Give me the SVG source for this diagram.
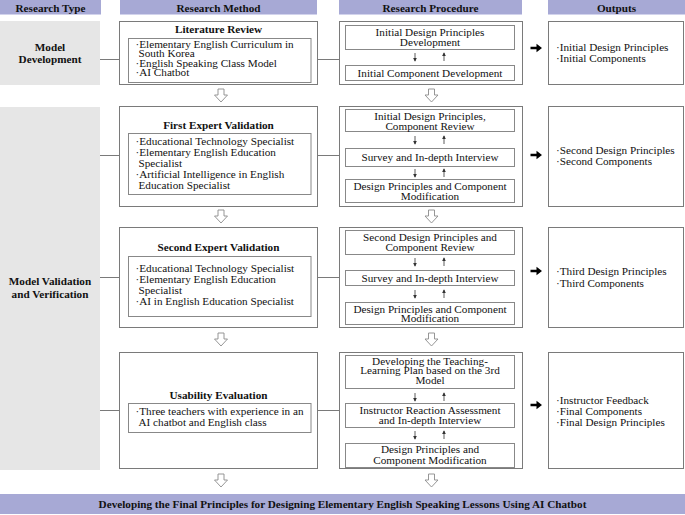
<svg xmlns="http://www.w3.org/2000/svg" width="685" height="515" viewBox="0 0 685 515">
<defs>
<style>
text{font-family:"Liberation Serif","Times New Roman",serif;font-size:11.2px;fill:#111}
.b{font-weight:bold}
.c{text-anchor:middle}
.hdr{fill:#a7a9d5}
.hdrl{stroke:#d2d3ec;stroke-width:1}
.gray{fill:#e6e6e6}
.box{fill:#fff;stroke:#7a7a7a;stroke-width:1}
.ibox{fill:#fff;stroke:#888;stroke-width:1}
.con{stroke:#7a7a7a;stroke-width:1;fill:none}
.hol{fill:#fff;stroke:#8a8a8a;stroke-width:0.9}
.sm{stroke:#333;stroke-width:0.8;fill:none}
.bold{fill:#000;stroke:none}
</style>
<marker id="tip" viewBox="0 0 6 6" refX="5" refY="3" markerWidth="4" markerHeight="4" orient="auto" markerUnits="userSpaceOnUse">
<path d="M0,0 L6,3 L0,6 Z" fill="#333"/>
</marker>
<path id="hollow" d="M-3,0 L3,0 L3,6 L6.5,6 L0,13 L-6.5,6 L-3,6 Z"/>
<path id="barrow" d="M-9.5,-1.3 L-3.5,-1.3 L-3.5,-4.3 L2,0 L-3.5,4.3 L-3.5,1.3 L-9.5,1.3 Z"/>
</defs>

<g id="headers">
<rect class="hdr" x="0" y="0" width="101" height="15"/>
<rect class="hdr" x="120" y="0" width="197" height="15"/>
<rect class="hdr" x="339" y="0" width="183" height="15"/>
<rect class="hdr" x="548" y="0" width="137" height="15"/>
<line class="hdrl" x1="0" y1="14.5" x2="101" y2="14.5"/>
<line class="hdrl" x1="120" y1="14.5" x2="317" y2="14.5"/>
<line class="hdrl" x1="339" y1="14.5" x2="522" y2="14.5"/>
<line class="hdrl" x1="548" y1="14.5" x2="685" y2="14.5"/>
<text class="b c" x="50.5" y="11.5">Research Type</text>
<text class="b c" x="218.5" y="11.5">Research Method</text>
<text class="b c" x="430.5" y="11.5">Research Procedure</text>
<text class="b c" x="616.5" y="11.5">Outputs</text>
</g>

<g id="type-model-development">
<rect class="gray" x="0" y="21" width="100" height="64"/>
<text class="b c" x="50" y="50.5">Model</text>
<text class="b c" x="50" y="63">Development</text>
</g>

<g id="type-model-validation">
<rect class="gray" x="0" y="107" width="100" height="363"/>
<text class="b c" x="50" y="285">Model Validation</text>
<text class="b c" x="50" y="298">and Verification</text>
</g>

<g id="method-literature-review">
<rect class="box" x="119.5" y="21.5" width="198" height="63"/>
<text class="b c" x="218.5" y="33">Literature Review</text>
<rect class="ibox" x="128.5" y="38.5" width="182.5" height="44"/>
<text x="135.5" y="47.5">·Elementary English Curriculum in</text>
<text x="138.5" y="57">South Korea</text>
<text x="135.5" y="66.5">·English Speaking Class Model</text>
<text x="135.5" y="76">·AI Chatbot</text>
</g>

<g id="method-first-expert">
<rect class="box" x="119.5" y="106.5" width="198" height="100"/>
<text class="b c" x="218.5" y="129">First Expert Validation</text>
<rect class="ibox" x="128.5" y="133.5" width="182.5" height="61"/>
<text x="135.5" y="145">·Educational Technology Specialist</text>
<text x="135.5" y="156">·Elementary English Education</text>
<text x="138.5" y="167">Specialist</text>
<text x="135.5" y="178">·Artificial Intelligence in English</text>
<text x="138.5" y="189">Education Specialist</text>
</g>

<g id="method-second-expert">
<rect class="box" x="119.5" y="227.5" width="198" height="100"/>
<text class="b c" x="218.5" y="250.5">Second Expert Validation</text>
<rect class="ibox" x="128.5" y="256.5" width="182.5" height="60"/>
<text x="135.5" y="272">·Educational Technology Specialist</text>
<text x="135.5" y="283">·Elementary English Education</text>
<text x="138.5" y="294">Specialist</text>
<text x="135.5" y="305">·AI in English Education Specialist</text>
</g>

<g id="method-usability">
<rect class="box" x="119.5" y="352.5" width="198" height="116"/>
<text class="b c" x="218.5" y="399">Usability Evaluation</text>
<rect class="ibox" x="128.5" y="403.5" width="182.5" height="29"/>
<text x="135.5" y="414.5">·Three teachers with experience in an</text>
<text x="138.5" y="425.5">AI chatbot and English class</text>
</g>

<g id="procedure-1">
<rect class="box" x="339.5" y="21.5" width="183" height="63"/>
<rect class="ibox" x="345.5" y="25.5" width="169" height="24"/>
<text class="c" x="430" y="35.5">Initial Design Principles</text>
<text class="c" x="430" y="45.5">Development</text>
<rect class="ibox" x="345.5" y="65.5" width="169" height="15"/>
<text class="c" x="430" y="76.5">Initial Component Development</text>
</g>

<g id="procedure-2">
<rect class="box" x="339.5" y="106.5" width="183" height="100"/>
<rect class="ibox" x="345.5" y="109.5" width="169" height="22"/>
<text class="c" x="430" y="119.5">Initial Design Principles,</text>
<text class="c" x="430" y="129.5">Component Review</text>
<rect class="ibox" x="345.5" y="148.5" width="169" height="18"/>
<text class="c" x="430" y="161">Survey and In-depth Interview</text>
<rect class="ibox" x="345.5" y="179.5" width="169" height="23"/>
<text class="c" x="430" y="190">Design Principles and Component</text>
<text class="c" x="430" y="200">Modification</text>
</g>

<g id="procedure-3">
<rect class="box" x="339.5" y="227.5" width="183" height="100"/>
<rect class="ibox" x="345.5" y="230.5" width="169" height="24"/>
<text class="c" x="430" y="241">Second Design Principles and</text>
<text class="c" x="430" y="251">Component Review</text>
<rect class="ibox" x="345.5" y="270.5" width="169" height="15"/>
<text class="c" x="430" y="282">Survey and In-depth Interview</text>
<rect class="ibox" x="345.5" y="302.5" width="169" height="22"/>
<text class="c" x="430" y="312.5">Design Principles and Component</text>
<text class="c" x="430" y="322">Modification</text>
</g>

<g id="procedure-4">
<rect class="box" x="339.5" y="352.5" width="183" height="116"/>
<rect class="ibox" x="345.5" y="355.5" width="169" height="33"/>
<text class="c" x="430" y="364.5">Developing the Teaching-</text>
<text class="c" x="430" y="374">Learning Plan based on the 3rd</text>
<text class="c" x="430" y="383.5">Model</text>
<rect class="ibox" x="345.5" y="403.5" width="169" height="24"/>
<text class="c" x="430" y="414">Instructor Reaction Assessment</text>
<text class="c" x="430" y="424">and In-depth Interview</text>
<rect class="ibox" x="345.5" y="443.5" width="169" height="24"/>
<text class="c" x="430" y="453">Design Principles and</text>
<text class="c" x="430" y="463.5">Component Modification</text>
</g>

<g id="output-1">
<rect class="box" x="548.5" y="21.5" width="135" height="63"/>
<text x="556" y="51">·Initial Design Principles</text>
<text x="556" y="62">·Initial Components</text>
</g>

<g id="output-2">
<rect class="box" x="548.5" y="106.5" width="135" height="100"/>
<text x="556" y="153.5">·Second Design Principles</text>
<text x="556" y="165">·Second Components</text>
</g>

<g id="output-3">
<rect class="box" x="548.5" y="227.5" width="135" height="100"/>
<text x="556" y="275">·Third Design Principles</text>
<text x="556" y="287">·Third Components</text>
</g>

<g id="output-4">
<rect class="box" x="548.5" y="352.5" width="135" height="116"/>
<text x="556" y="404">·Instructor Feedback</text>
<text x="556" y="415">·Final Components</text>
<text x="556" y="426">·Final Design Principles</text>
</g>

<g id="final-banner">
<rect class="hdr" x="0" y="494" width="685" height="20"/>
<text class="b c" x="342.5" y="508">Developing the Final Principles for Designing Elementary English Speaking Lessons Using AI Chatbot</text>
</g>

<g id="connectors">
<line class="con" x1="100" y1="59.5" x2="119.5" y2="59.5"/>
<line class="con" x1="317.5" y1="59.5" x2="339.5" y2="59.5"/>
<line class="con" x1="100" y1="155.5" x2="119.5" y2="155.5"/>
<line class="con" x1="317.5" y1="155.5" x2="339.5" y2="155.5"/>
<line class="con" x1="100" y1="277.5" x2="119.5" y2="277.5"/>
<line class="con" x1="317.5" y1="277.5" x2="339.5" y2="277.5"/>
<line class="con" x1="100" y1="410.5" x2="119.5" y2="410.5"/>
<line class="con" x1="317.5" y1="410.5" x2="339.5" y2="410.5"/>
<use href="#hollow" class="hol" x="221" y="89"/>
<use href="#hollow" class="hol" x="431.5" y="89"/>
<use href="#hollow" class="hol" x="221" y="210"/>
<use href="#hollow" class="hol" x="431.5" y="210"/>
<use href="#hollow" class="hol" x="221" y="333"/>
<use href="#hollow" class="hol" x="431.5" y="333"/>
<use href="#hollow" class="hol" x="221" y="474"/>
<use href="#hollow" class="hol" x="431.5" y="474"/>
<use href="#barrow" class="bold" x="540" y="48"/>
<use href="#barrow" class="bold" x="540" y="155"/>
<use href="#barrow" class="bold" x="540" y="271"/>
<use href="#barrow" class="bold" x="540" y="405"/>
<line class="sm" x1="415" y1="53" x2="415" y2="61" marker-end="url(#tip)"/>
<line class="sm" x1="444" y1="61" x2="444" y2="53" marker-end="url(#tip)"/>
<line class="sm" x1="415" y1="136" x2="415" y2="144" marker-end="url(#tip)"/>
<line class="sm" x1="444" y1="144" x2="444" y2="136" marker-end="url(#tip)"/>
<line class="sm" x1="415" y1="169" x2="415" y2="177" marker-end="url(#tip)"/>
<line class="sm" x1="444" y1="177" x2="444" y2="169" marker-end="url(#tip)"/>
<line class="sm" x1="415" y1="258" x2="415" y2="266" marker-end="url(#tip)"/>
<line class="sm" x1="444" y1="266" x2="444" y2="258" marker-end="url(#tip)"/>
<line class="sm" x1="415" y1="290" x2="415" y2="298" marker-end="url(#tip)"/>
<line class="sm" x1="444" y1="298" x2="444" y2="290" marker-end="url(#tip)"/>
<line class="sm" x1="415" y1="393" x2="415" y2="401" marker-end="url(#tip)"/>
<line class="sm" x1="444" y1="401" x2="444" y2="393" marker-end="url(#tip)"/>
<line class="sm" x1="415" y1="431" x2="415" y2="439" marker-end="url(#tip)"/>
<line class="sm" x1="444" y1="439" x2="444" y2="431" marker-end="url(#tip)"/>
</g>
</svg>
